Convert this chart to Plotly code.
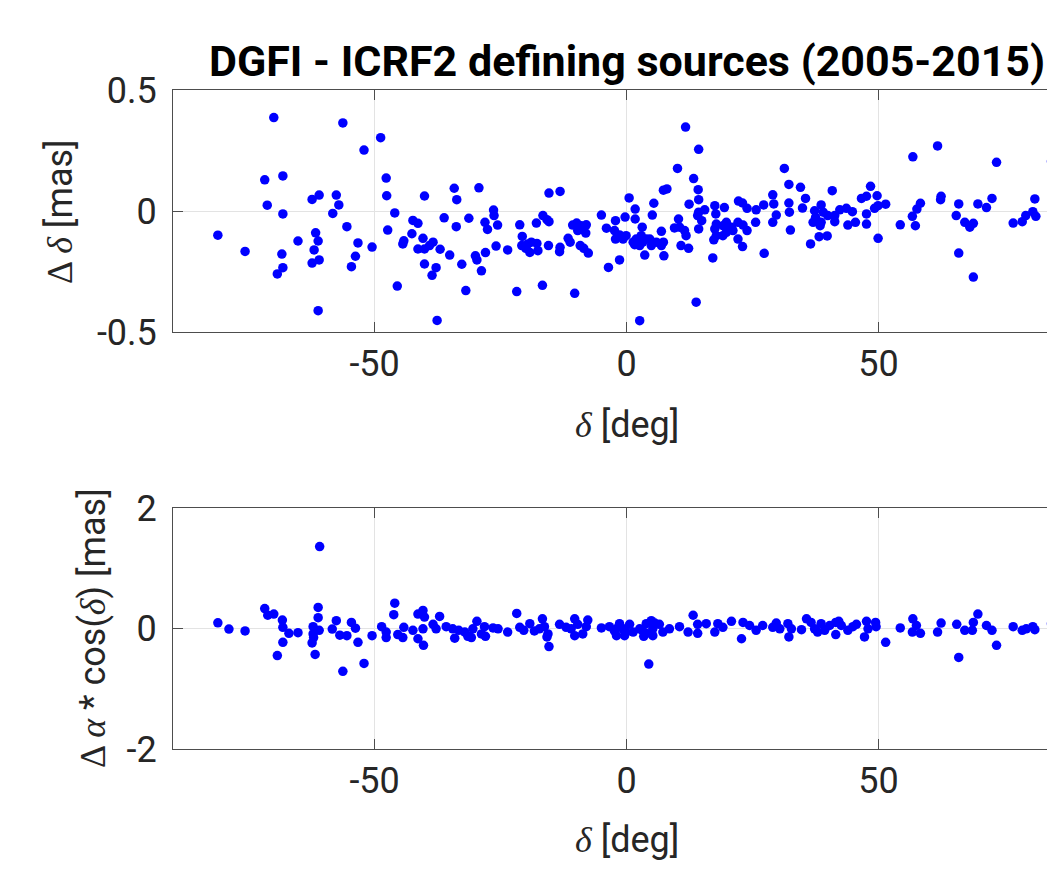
import plotly.graph_objects as go

# ---------------- data ----------------
dec_top = [
    -70.0, -56.3, -48.8, -52.1, -71.8, -68.2, -47.7, -47.6, -62.4, -61.0, -57.6, -57.1, -58.3, -71.3, -68.2,
    -40.1, -34.2, -33.7, -46.0, -36.2, -31.3, -42.4, -41.4, -33.8, -47.4, -55.5, -61.7, -81.1, -65.2, -61.2,
    -53.3, -50.5, -42.6, -44.2, -44.4, -40.4, -38.4, -39.1, -41.4, -40.1, -37.0, -35.1, -32.7, -40.1, -37.8,
    -38.6, -75.7, -68.4, -62.0, -68.2, -69.3, -62.4, -61.0, -53.8, -54.6, -45.5, -31.9, -61.2, -37.6,
    -29.3, -26.4, -26.3, -28.1, -27.6, -25.6, -25.9, -30.0, -29.7, -28.0, -28.8, -23.6, -21.8, -21.2, -20.7,
    -20.8, -19.6, -18.9, -17.8, -19.2, -17.6, -20.0, -17.9, -16.6, -15.8, -15.4, -15.5, -16.7, -15.4, -13.2,
    -13.2, -13.3, -11.6, -11.2, -10.3, -10.7, -9.9, -9.0, -8.0, -8.7, -9.7, -8.1, -9.2, -8.5, -7.6,
    -5.0, -4.0, -3.6, -2.2, -2.4, -2.2, -1.4, -0.7, -0.1, -1.4, -0.3, 0.5, 1.7, 1.7,
    1.3, 1.9, 2.9, 3.2, 1.6, 2.6, 3.9, 3.1, 3.6, 2.6, 5.4, 5.1, 4.6, 4.9, 5.9, 6.9, 6.9, 7.3, 7.4,
    7.3, 8.0, 10.1, 11.7, 14.3, 13.3, 14.2, 14.3, 12.4, 15.5, 14.3, 14.1, 14.9, 10.3, 9.5, 10.5, 11.5, 11.8,
    14.3, 10.8, 12.3, 13.8, 17.1, 17.5, 19.4, 17.7, 17.8, 17.5, 19.1, 17.3, 17.8, 19.8, 20.8, 19.8, 19.1,
    22.2, 23.0, 23.9, 22.1, 23.1, 23.9, 22.1, 23.0, 21.1, 25.7, 25.6,
    27.2, 27.3, 29.0, 29.2, 29.7, 29.0, 31.3, 32.2, 34.5, 35.5, 32.2, 32.3, 34.9, 32.5, 36.5,
    37.3, 38.6, 39.0, 37.5, 37.0, 38.6, 38.4, 39.9, 38.2, 39.8, 40.8, 41.3, 41.3, 42.3, 43.6, 44.8,
    43.9, 45.4, 46.6, 47.6, 48.4, 49.7, 47.6, 47.6, 49.2, 49.9, 49.9, 51.4, 54.3, 56.8, 56.7, 57.3, 57.6,
    58.3, 61.7, 62.4, 62.3, 65.9, 65.4, 67.1, 68.1, 68.8, 65.9, 68.8, 69.7, 71.4, 72.5, 73.4,
    76.7, 78.5, 79.2, 80.6, 81.2, 81.0, 84.3,
]
ddec = [
    0.386, 0.364, 0.303, 0.252, 0.129, 0.145, 0.136, 0.063, 0.048, 0.066, 0.066, 0.025, -0.010, 0.024, -0.012,
    0.062, 0.094, 0.047, -0.008, -0.028, -0.030, -0.039, -0.051, -0.065, -0.079, -0.065, -0.090, -0.100, -0.124, -0.124,
    -0.132, -0.149, -0.094, -0.123, -0.136, -0.113, -0.129, -0.143, -0.157, -0.157, -0.158, -0.182, -0.220, -0.219, -0.234,
    -0.266, -0.167, -0.178, -0.161, -0.234, -0.260, -0.215, -0.202, -0.187, -0.230, -0.310, -0.329, -0.412, -0.452,
    0.096, 0.004, -0.019, -0.047, -0.076, -0.058, -0.145, -0.185, -0.202, -0.172, -0.247, -0.161, -0.333, -0.057, -0.105,
    -0.143, -0.136, -0.129, -0.134, -0.171, -0.164, -0.154, -0.050, -0.019, -0.036, -0.044, -0.143, -0.307, 0.074, 0.081,
    -0.150, -0.168, -0.113, -0.129, -0.340, -0.058, -0.050, -0.061, -0.057, -0.077, -0.081, -0.091, -0.143, -0.154, -0.174,
    -0.017, -0.071, -0.233, -0.040, -0.081, -0.116, -0.099, -0.116, -0.102, -0.202, -0.025, 0.054, 0.008, -0.033,
    -0.129, -0.116, -0.102, -0.129, -0.139, -0.143, -0.116, -0.067, -0.182, -0.453, 0.032, -0.017, -0.116, -0.143, -0.129, -0.084, -0.143, -0.129, -0.185,
    0.086, 0.091, 0.176, 0.347, 0.255, 0.134, 0.088, 0.047, 0.028, 0.005, -0.005, -0.019, -0.040, -0.033, -0.070, -0.067, -0.081, -0.102,
    -0.074, -0.143, -0.154, -0.377, -0.194, 0.022, 0.014, -0.012, -0.054, -0.074, -0.061, -0.119, -0.102, -0.047, -0.067, -0.088, -0.102,
    0.041, 0.033, 0.011, -0.047, -0.058, -0.081, -0.116, -0.147, -0.081, 0.005, -0.047,
    0.025, -0.175, 0.067, 0.029, -0.017, -0.047, 0.176, 0.110, 0.098, 0.052, 0.033, -0.005, 0.012, -0.079, -0.136,
    0.001, 0.025, -0.005, -0.026, -0.047, -0.047, -0.061, -0.019, -0.106, -0.103, 0.084, -0.019, -0.044, 0.005, 0.011, -0.003,
    -0.058, -0.047, 0.052, 0.061, 0.102, 0.063, -0.012, -0.054, 0.011, 0.022, -0.113, 0.028, -0.057, 0.224, -0.022, -0.061, 0.008,
    0.032, 0.269, 0.061, 0.047, 0.029, -0.019, -0.047, -0.067, -0.051, -0.174, -0.273, 0.029, 0.014, 0.052, 0.201,
    -0.050, -0.044, -0.019, -0.003, -0.022, 0.050, 0.205,
]

dec_bot = [
    -60.9, -81.1, -78.9, -75.7, -71.8, -71.2, -70.0, -68.3, -68.2, -67.0, -65.2, -68.2, -69.3,
    -61.2, -61.2, -62.2, -61.0, -62.2, -62.1, -62.4, -61.8,
    -57.6, -58.4, -56.9, -55.5, -54.6, -53.8, -53.3, -56.3, -52.1, -50.5,
    -48.6, -47.7, -47.7, -46.0, -46.2, -45.4, -44.4, -44.2, -42.4,
    -41.4, -40.4, -40.1, -40.4, -41.4, -40.3,
    -38.4, -37.1, -37.8, -35.8, -34.5, -34.1, -33.3, -32.1, -31.5,
    -29.7, -30.5, -30.8, -28.8, -28.0, -28.2, -26.5, -25.5, -23.6, -21.8,
    -21.2, -20.4, -19.2, -18.3, -16.7, -16.3, -15.6, -15.8, -15.4, -17.3,
    -13.3, -12.0, -10.3, -11.0, -10.3, -9.7, -8.7, -7.7, -8.0,
    -5.0, -3.4, -2.4, -1.4, -0.7, -2.0, -0.4, 0.6, 1.3, 2.6, 3.4, 3.9, 4.9, 5.2, 6.5, 7.2, 8.5,
    10.5, 12.2, 13.2, 14.1, 14.1, 15.8, 17.5, 18.1, 19.1, 20.8, 22.8, 23.1, 24.4, 25.7,
    4.4, 3.9, 3.1, 5.2, 5.6, -1.7, -0.1,
    27.0, 29.0, 29.7, 30.4, 32.2, 32.0, 32.7, 34.7, 35.7, 36.6, 37.3, 37.9, 38.6, 39.3, 40.3,
    41.5, 42.1, 41.5, 42.6, 43.9, 44.9, 45.6, 47.2, 47.6, 47.9, 49.5, 51.4, 49.4,
    54.3, 56.8, 56.7, 58.3, 57.5, 61.7, 62.4,
    65.5, 65.9, 67.1, 68.6, 68.8, 69.7, 71.4, 72.5, 73.4,
    76.7, 78.5, 79.3, 80.6, 81.0, 84.3,
]
dra = [
    1.36, 0.095, -0.01, -0.04, 0.33, 0.22, 0.24, 0.14, 0.02, -0.08, -0.07, -0.23, -0.45,
    0.35, 0.18, 0.03, -0.03, -0.09, -0.15, -0.24, -0.43,
    0.13, -0.01, -0.11, -0.12, 0.10, 0.005, -0.23, -0.71, -0.58, -0.12,
    0.03, -0.06, -0.15, 0.42, 0.23, -0.10, -0.15, 0.02, -0.03,
    0.24, 0.30, 0.19, -0.005, -0.17, -0.28,
    0.07, 0.20, -0.005, 0.03, -0.005, -0.16, -0.03, -0.06, -0.13,
    0.12, -0.005, -0.15, -0.09, -0.13, 0.03, 0.01, -0.005, -0.06, 0.25,
    0.02, -0.03, 0.08, -0.04, 0.16, 0.03, -0.09, -0.14, -0.30, -0.005,
    0.07, 0.02, 0.16, -0.005, -0.12, 0.07, -0.09, 0.14, 0.03,
    0.01, 0.03, -0.04, 0.08, -0.005, -0.12, -0.12, 0.07, -0.06, -0.005, -0.13, 0.08, 0.13, -0.005, 0.07, -0.06, -0.005,
    0.03, -0.06, 0.22, 0.07, -0.08, 0.08, -0.06, 0.08, 0.02, 0.12, -0.17, 0.10, 0.05, -0.03,
    -0.59, -0.08, -0.03, -0.12, 0.09, 0.02, -0.06,
    0.05, 0.02, 0.09, -0.005, -0.14, 0.08, -0.005, -0.02, 0.16, 0.10, -0.005, -0.06, 0.08, -0.03, 0.05,
    0.10, 0.12, -0.10, 0.05, -0.03, 0.03, 0.07, -0.14, 0.12, -0.005, 0.03, -0.23, 0.10,
    0.01, 0.16, -0.06, -0.08, 0.05, -0.06, 0.09,
    0.07, -0.48, -0.03, -0.03, 0.10, 0.24, 0.05, -0.03, -0.28,
    0.03, -0.03, -0.005, 0.03, -0.02, 0.08,
]

x_ticks = [-50, 0, 50]
x_ticktext = ["-50", "0", "50"]
y1_ticks = [-0.5, 0, 0.5]
y1_ticktext = ["-0.5", "0", "0.5"]
y2_ticks = [-2, 0, 2]
y2_ticktext = ["-2", "0", "2"]

title_text = "<b>DGFI - ICRF2 defining sources (2005-2015)</b>"
GR = "font-family:'Liberation Serif'"
xlabel = f"<span style=\"{GR}\"><i>δ</i></span> [deg]"
ylabel1 = f"<span style=\"{GR}\">Δ <i>δ</i></span> [mas]"
ylabel2 = f"<span style=\"{GR}\">Δ <i>α</i></span> * cos(<span style=\"{GR}\"><i>δ</i></span>) [mas]"

# ---------------- layout geometry ----------------
# the page body has an 8px margin, so the figure starts at (8, 8) on screen
OFF = 8
W, H = 1055 - OFF, 870 - 2 * OFF


def fx(sx):  # screen x -> paper x
    return (sx - OFF) / W


def fy(sy):  # screen y -> paper y
    return 1 - (sy - OFF) / H


scr_left = 173
px_per_deg = 5.04
x_range = [-90, -90 + (1055 - scr_left) / px_per_deg]

fig = go.Figure()
fig.add_trace(go.Scatter(x=dec_top, y=ddec, mode="markers", xaxis="x", yaxis="y",
                         marker=dict(color="#0000ff", size=9.5, line=dict(width=0)),
                         showlegend=False))
fig.add_trace(go.Scatter(x=dec_bot, y=dra, mode="markers", xaxis="x2", yaxis="y2",
                         marker=dict(color="#0000ff", size=9.5, line=dict(width=0)),
                         showlegend=False))

FONT = "Roboto, 'Open Sans', sans-serif"
axcol = "#4d4d4d"
gridcol = "#e3e3e3"
txtcol = "#262626"

common_x = dict(range=x_range, domain=[fx(scr_left), 1], tickmode="array",
                tickvals=x_ticks, ticktext=x_ticktext, showgrid=True, gridcolor=gridcol,
                gridwidth=1, zeroline=False, showline=True, linecolor=axcol, linewidth=1,
                mirror="ticks", ticks="inside", ticklen=10, tickcolor=axcol,
                tickfont=dict(family=FONT, size=36, color=txtcol), automargin=False,
                ticklabelstandoff=0)
common_y = dict(tickmode="array", showgrid=True, gridcolor=gridcol, gridwidth=1,
                zeroline=False, showline=True, linecolor=axcol, linewidth=1, mirror=False,
                ticks="inside", ticklen=10, tickcolor=axcol,
                tickfont=dict(family=FONT, size=36, color=txtcol), automargin=False,
                ticklabelstandoff=8)

fig.update_layout(
    width=W, height=H, margin=dict(l=0, r=0, t=0, b=0),
    paper_bgcolor="white", plot_bgcolor="white",
    font=dict(family=FONT, color=txtcol),
    xaxis=dict(anchor="y", **common_x),
    yaxis=dict(anchor="x", domain=[fy(332), fy(90)], range=[-0.5, 0.5],
               tickvals=y1_ticks, ticktext=y1_ticktext, **common_y),
    xaxis2=dict(anchor="y2", **common_x),
    yaxis2=dict(anchor="x2", domain=[fy(749), fy(508)], range=[-2, 2],
                tickvals=y2_ticks, ticktext=y2_ticktext, **common_y),
)

lab_font = dict(family=FONT, size=36, color=txtcol)
ann = [
    dict(text=title_text, x=fx(627), y=fy(61), xanchor="center", yanchor="middle",
         font=dict(family=FONT, size=43, color="black")),
    dict(text=xlabel, x=fx(627), y=fy(425), xanchor="center", yanchor="middle", font=lab_font),
    dict(text=xlabel, x=fx(627), y=fy(840), xanchor="center", yanchor="middle", font=lab_font),
    dict(text=ylabel1, x=fx(60), y=fy(212), xanchor="center", yanchor="middle",
         textangle=-90, font=lab_font),
    dict(text=ylabel2, x=fx(93), y=fy(628), xanchor="center", yanchor="middle",
         textangle=-90, font=lab_font),
]
for a in ann:
    a.update(xref="paper", yref="paper", showarrow=False)
fig.update_layout(annotations=ann)

fig.write_html("out.html")
